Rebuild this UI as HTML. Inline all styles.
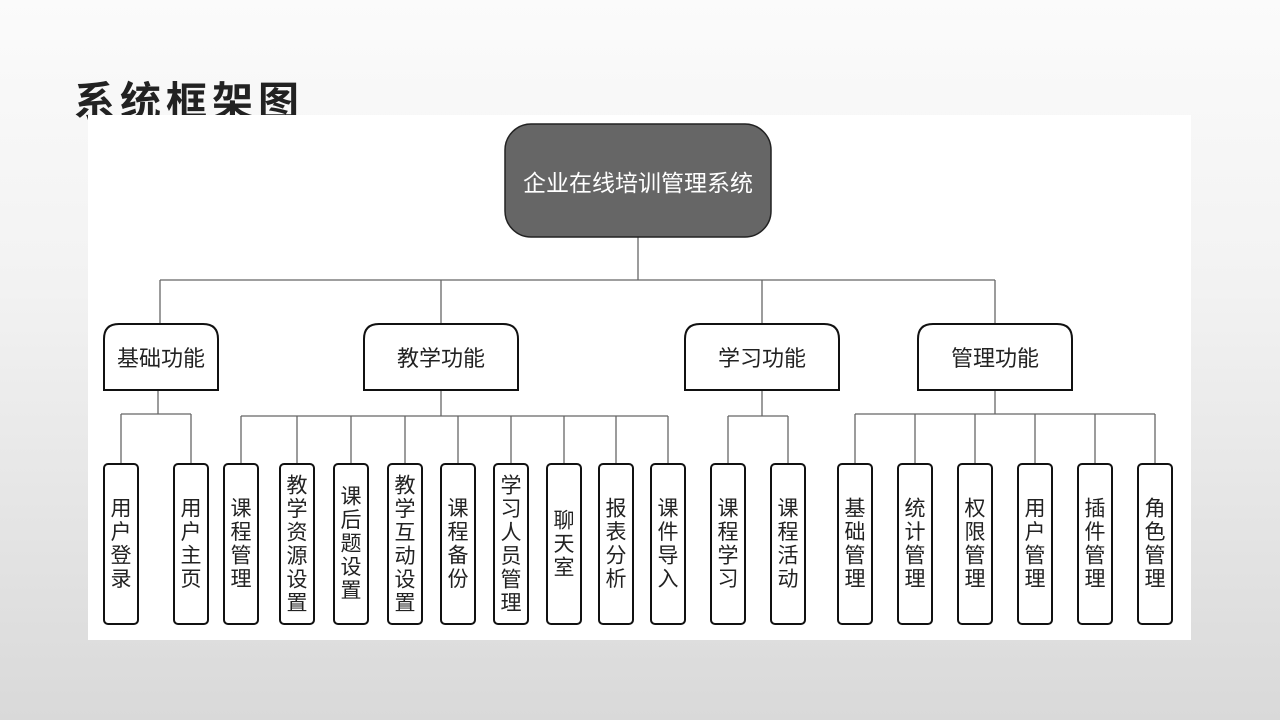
<!DOCTYPE html>
<html><head><meta charset="utf-8"><style>
html,body{margin:0;padding:0}
body{width:1280px;height:720px;position:relative;overflow:hidden;background:linear-gradient(#fbfbfb 0%,#f2f2f2 40%,#d9d9d9 100%);font-family:"Liberation Sans","Noto Sans CJK SC",sans-serif}
.title{position:absolute;left:74px;top:73px;font-size:41px;font-weight:bold;color:#222;letter-spacing:5px;font-family:"Noto Sans CJK SC",sans-serif;line-height:50px}
.panel{position:absolute;left:88px;top:115px;width:1103px;height:525px;background:#fff}
svg{position:absolute;left:0;top:0}
.leaf{position:absolute;top:464px;width:34px;height:160px;display:flex;align-items:center;justify-content:center}
.leaf span{writing-mode:vertical-rl;text-orientation:upright;font-size:21px;letter-spacing:2.5px;color:#222;font-family:"Noto Sans CJK SC",sans-serif;line-height:34px}
.l2{position:absolute;top:324px;height:66px;display:flex;align-items:center;justify-content:center;font-size:22px;color:#222;font-family:"Noto Sans CJK SC",sans-serif}
.root{position:absolute;left:505px;top:124px;width:266px;height:113px;display:flex;align-items:center;justify-content:center;font-size:23px;color:#fff;font-family:"Noto Sans CJK SC",sans-serif}
</style></head><body>
<div class="title">系统框架图</div>
<div class="panel"></div>
<svg width="1280" height="720">
<g stroke="#666" stroke-width="1.3" fill="none">
<path d="M638 237V280M160 280H995M160 280V324M441 280V324M762 280V324M995 280V324"/>
<path d="M158 390V414M121 414H191M121 414V464M191 414V464"/>
<path d="M441 390V416M241 416H668M241 416V464M297 416V464M351 416V464M405 416V464M458 416V464M511 416V464M564 416V464M616 416V464M668 416V464"/>
<path d="M762 390V416M728 416H788M728 416V464M788 416V464"/>
<path d="M995 390V414M855 414H1155M855 414V464M915 414V464M975 414V464M1035 414V464M1095 414V464M1155 414V464"/>
</g>
<rect x="505" y="124" width="266" height="113" rx="26" fill="#666" stroke="#222" stroke-width="1.5"/>
<g fill="#fff" stroke="#111" stroke-width="2">
<path d="M104 390V339Q104 324 119 324H203Q218 324 218 339V390Z"/>
<path d="M364 390V339Q364 324 379 324H503Q518 324 518 339V390Z"/>
<path d="M685 390V339Q685 324 700 324H824Q839 324 839 339V390Z"/>
<path d="M918 390V339Q918 324 933 324H1057Q1072 324 1072 339V390Z"/>
</g>
<g fill="#fff" stroke="#111" stroke-width="2">
<rect x="104" y="464" width="34" height="160" rx="4"/>
<rect x="174" y="464" width="34" height="160" rx="4"/>
<rect x="224" y="464" width="34" height="160" rx="4"/>
<rect x="280" y="464" width="34" height="160" rx="4"/>
<rect x="334" y="464" width="34" height="160" rx="4"/>
<rect x="388" y="464" width="34" height="160" rx="4"/>
<rect x="441" y="464" width="34" height="160" rx="4"/>
<rect x="494" y="464" width="34" height="160" rx="4"/>
<rect x="547" y="464" width="34" height="160" rx="4"/>
<rect x="599" y="464" width="34" height="160" rx="4"/>
<rect x="651" y="464" width="34" height="160" rx="4"/>
<rect x="711" y="464" width="34" height="160" rx="4"/>
<rect x="771" y="464" width="34" height="160" rx="4"/>
<rect x="838" y="464" width="34" height="160" rx="4"/>
<rect x="898" y="464" width="34" height="160" rx="4"/>
<rect x="958" y="464" width="34" height="160" rx="4"/>
<rect x="1018" y="464" width="34" height="160" rx="4"/>
<rect x="1078" y="464" width="34" height="160" rx="4"/>
<rect x="1138" y="464" width="34" height="160" rx="4"/>
</g>
</svg>
<div class="root">企业在线培训管理系统</div>
<div class="l2" style="left:104px;width:114px">基础功能</div>
<div class="l2" style="left:364px;width:154px">教学功能</div>
<div class="l2" style="left:685px;width:154px">学习功能</div>
<div class="l2" style="left:918px;width:154px">管理功能</div>
<div class="leaf" style="left:104px"><span>用户登录</span></div>
<div class="leaf" style="left:174px"><span>用户主页</span></div>
<div class="leaf" style="left:224px"><span>课程管理</span></div>
<div class="leaf" style="left:280px"><span>教学资源设置</span></div>
<div class="leaf" style="left:334px"><span>课后题设置</span></div>
<div class="leaf" style="left:388px"><span>教学互动设置</span></div>
<div class="leaf" style="left:441px"><span>课程备份</span></div>
<div class="leaf" style="left:494px"><span>学习人员管理</span></div>
<div class="leaf" style="left:547px"><span>聊天室</span></div>
<div class="leaf" style="left:599px"><span>报表分析</span></div>
<div class="leaf" style="left:651px"><span>课件导入</span></div>
<div class="leaf" style="left:711px"><span>课程学习</span></div>
<div class="leaf" style="left:771px"><span>课程活动</span></div>
<div class="leaf" style="left:838px"><span>基础管理</span></div>
<div class="leaf" style="left:898px"><span>统计管理</span></div>
<div class="leaf" style="left:958px"><span>权限管理</span></div>
<div class="leaf" style="left:1018px"><span>用户管理</span></div>
<div class="leaf" style="left:1078px"><span>插件管理</span></div>
<div class="leaf" style="left:1138px"><span>角色管理</span></div>
</body></html>
